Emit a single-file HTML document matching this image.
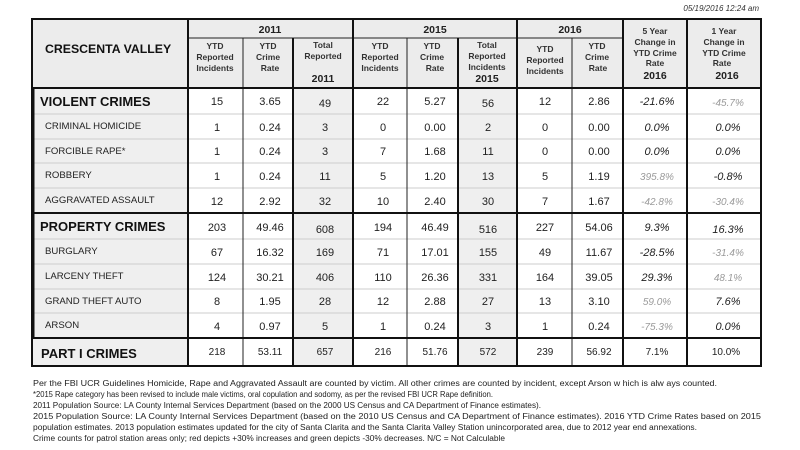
<!DOCTYPE html>
<html><head><meta charset="utf-8"><style>
html,body{margin:0;padding:0;background:#fff}
svg{display:block}
text{font-family:"Liberation Sans",sans-serif}
.h{font-size:8.5px;font-weight:bold;fill:#333;text-anchor:middle}
.y{font-size:10.5px;font-weight:bold;fill:#222;text-anchor:middle}
.d{font-size:11px;fill:#222;text-anchor:middle}
.p{font-size:10px;fill:#222;text-anchor:middle}
.i{font-size:11px;fill:#222;text-anchor:middle;font-style:italic}
.g{fill:#9a9a9a}
.s{font-size:13px;font-weight:bold;fill:#111}
.l{font-size:9.6px;fill:#222}
.f{font-size:8px;fill:#222}
</style></head><body>
<svg width="800" height="450" xmlns="http://www.w3.org/2000/svg">
<text x="759" y="11" text-anchor="end" font-size="8" font-style="italic" fill="#333">05/19/2016 12:24 am</text>
<rect x="31" y="18" width="731" height="70" fill="#ececec"/>
<rect x="31" y="88" width="157" height="278" fill="#efefef"/>
<rect x="293" y="88" width="60" height="278" fill="#efefef"/>
<rect x="458" y="88" width="59" height="278" fill="#efefef"/>
<g stroke="#ccc" stroke-width="1">
<line x1="31" y1="114" x2="762" y2="114"/><line x1="31" y1="139" x2="762" y2="139"/>
<line x1="31" y1="163" x2="762" y2="163"/><line x1="31" y1="188" x2="762" y2="188"/>
<line x1="31" y1="239" x2="762" y2="239"/><line x1="31" y1="264" x2="762" y2="264"/>
<line x1="31" y1="289" x2="762" y2="289"/><line x1="31" y1="313" x2="762" y2="313"/>
</g>
<g stroke="#222" stroke-width="1">
<line x1="188" y1="38" x2="623" y2="38"/>
<line x1="243" y1="38" x2="243" y2="366"/><line x1="407" y1="38" x2="407" y2="366"/>
<line x1="572" y1="38" x2="572" y2="366"/>
</g>
<g stroke="#111" stroke-width="2">
<line x1="293" y1="38" x2="293" y2="366"/><line x1="458" y1="38" x2="458" y2="366"/>
<line x1="188" y1="18" x2="188" y2="366"/><line x1="353" y1="18" x2="353" y2="366"/>
<line x1="517" y1="18" x2="517" y2="366"/><line x1="623" y1="18" x2="623" y2="366"/>
<line x1="687" y1="18" x2="687" y2="366"/>
<line x1="31" y1="88" x2="762" y2="88"/><line x1="31" y1="213" x2="762" y2="213"/>
<line x1="31" y1="338" x2="762" y2="338"/>
</g>
<rect x="32" y="19" width="729" height="347" fill="none" stroke="#111" stroke-width="2"/>
<line x1="33" y1="88" x2="33" y2="338" stroke="#111" stroke-width="3"/>
<text x="45" y="53" font-size="12.3" font-weight="bold" fill="#111">CRESCENTA VALLEY</text>
<text class="y" x="270" y="33">2011</text><text class="y" x="435" y="33">2015</text><text class="y" x="570" y="33">2016</text>
<text class="h"><tspan x="215" y="49">YTD</tspan><tspan x="215" y="60">Reported</tspan><tspan x="215" y="71">Incidents</tspan></text>
<text class="h"><tspan x="268" y="49">YTD</tspan><tspan x="268" y="60">Crime</tspan><tspan x="270" y="71">Rate</tspan></text>
<text class="h"><tspan x="323" y="48">Total</tspan><tspan x="323" y="59">Reported</tspan></text><text class="y" x="323" y="82" font-size="9.5">2011</text>
<text class="h"><tspan x="380" y="49">YTD</tspan><tspan x="380" y="60">Reported</tspan><tspan x="380" y="71">Incidents</tspan></text>
<text class="h"><tspan x="432" y="49">YTD</tspan><tspan x="432" y="60">Crime</tspan><tspan x="435" y="71">Rate</tspan></text>
<text class="h"><tspan x="487" y="48">Total</tspan><tspan x="487" y="59">Reported</tspan><tspan x="487" y="70">Incidents</tspan></text><text class="y" x="487" y="82" font-size="9.5">2015</text>
<text class="h"><tspan x="545" y="52">YTD</tspan><tspan x="545" y="63">Reported</tspan><tspan x="545" y="74">Incidents</tspan></text>
<text class="h"><tspan x="597" y="49">YTD</tspan><tspan x="597" y="60">Crime</tspan><tspan x="598" y="71">Rate</tspan></text>
<text class="h"><tspan x="655" y="34">5 Year</tspan><tspan x="655" y="45">Change in</tspan><tspan x="655" y="56">YTD Crime</tspan><tspan x="655" y="66">Rate</tspan></text><text class="y" x="655" y="79" font-size="9.5">2016</text>
<text class="h"><tspan x="724" y="34">1 Year</tspan><tspan x="724" y="45">Change in</tspan><tspan x="724" y="56">YTD Crime</tspan><tspan x="722" y="66">Rate</tspan></text><text class="y" x="727" y="79" font-size="9.5">2016</text>
<text class="s" x="40" y="106">VIOLENT CRIMES</text>
<text class="l" x="45" y="129">CRIMINAL HOMICIDE</text>
<text class="l" x="45" y="154">FORCIBLE RAPE*</text>
<text class="l" x="45" y="178">ROBBERY</text>
<text class="l" x="45" y="203">AGGRAVATED ASSAULT</text>
<text class="s" x="40" y="231">PROPERTY CRIMES</text>
<text class="l" x="45" y="254">BURGLARY</text>
<text class="l" x="45" y="279">LARCENY THEFT</text>
<text class="l" x="45" y="304">GRAND THEFT AUTO</text>
<text class="l" x="45" y="328">ARSON</text>
<text class="s" x="41" y="358" font-size="13.5">PART I CRIMES</text>
<g class="d">
<text x="217" y="105">15</text><text x="270" y="105">3.65</text><text x="325" y="107">49</text><text x="383" y="105">22</text><text x="435" y="105">5.27</text><text x="488" y="107">56</text><text x="545" y="105">12</text><text x="599" y="105">2.86</text>
<text x="217" y="131">1</text><text x="270" y="131">0.24</text><text x="325" y="131">3</text><text x="383" y="131">0</text><text x="435" y="131">0.00</text><text x="488" y="131">2</text><text x="545" y="131">0</text><text x="599" y="131">0.00</text>
<text x="217" y="155">1</text><text x="270" y="155">0.24</text><text x="325" y="155">3</text><text x="383" y="155">7</text><text x="435" y="155">1.68</text><text x="488" y="155">11</text><text x="545" y="155">0</text><text x="599" y="155">0.00</text>
<text x="217" y="180">1</text><text x="270" y="180">0.24</text><text x="325" y="180">11</text><text x="383" y="180">5</text><text x="435" y="180">1.20</text><text x="488" y="180">13</text><text x="545" y="180">5</text><text x="599" y="180">1.19</text>
<text x="217" y="205">12</text><text x="270" y="205">2.92</text><text x="325" y="205">32</text><text x="383" y="205">10</text><text x="435" y="205">2.40</text><text x="488" y="205">30</text><text x="545" y="205">7</text><text x="599" y="205">1.67</text>
<text x="217" y="231">203</text><text x="270" y="231">49.46</text><text x="325" y="233">608</text><text x="383" y="231">194</text><text x="435" y="231">46.49</text><text x="488" y="233">516</text><text x="545" y="231">227</text><text x="599" y="231">54.06</text>
<text x="217" y="256">67</text><text x="270" y="256">16.32</text><text x="325" y="256">169</text><text x="383" y="256">71</text><text x="435" y="256">17.01</text><text x="488" y="256">155</text><text x="545" y="256">49</text><text x="599" y="256">11.67</text>
<text x="217" y="281">124</text><text x="270" y="281">30.21</text><text x="325" y="281">406</text><text x="383" y="281">110</text><text x="435" y="281">26.36</text><text x="488" y="281">331</text><text x="545" y="281">164</text><text x="599" y="281">39.05</text>
<text x="217" y="305">8</text><text x="270" y="305">1.95</text><text x="325" y="305">28</text><text x="383" y="305">12</text><text x="435" y="305">2.88</text><text x="488" y="305">27</text><text x="545" y="305">13</text><text x="599" y="305">3.10</text>
<text x="217" y="330">4</text><text x="270" y="330">0.97</text><text x="325" y="330">5</text><text x="383" y="330">1</text><text x="435" y="330">0.24</text><text x="488" y="330">3</text><text x="545" y="330">1</text><text x="599" y="330">0.24</text>
</g>
<g class="p">
<text x="217" y="355">218</text><text x="270" y="355">53.11</text><text x="325" y="355">657</text><text x="383" y="355">216</text><text x="435" y="355">51.76</text><text x="488" y="355">572</text><text x="545" y="355">239</text><text x="599" y="355">56.92</text>
<text x="657" y="355">7.1%</text><text x="726" y="355">10.0%</text>
</g>
<g class="i">
<text x="657" y="105">-21.6%</text><text class="g" x="728" y="106" font-size="10">-45.7%</text>
<text x="657" y="131">0.0%</text><text x="728" y="131">0.0%</text>
<text x="657" y="155">0.0%</text><text x="728" y="155">0.0%</text>
<text class="g" x="657" y="180" font-size="10">395.8%</text><text x="728" y="180">-0.8%</text>
<text class="g" x="657" y="205" font-size="10">-42.8%</text><text class="g" x="728" y="205" font-size="10">-30.4%</text>
<text x="657" y="231">9.3%</text><text x="728" y="233">16.3%</text>
<text x="657" y="256">-28.5%</text><text class="g" x="728" y="256" font-size="10">-31.4%</text>
<text x="657" y="281">29.3%</text><text class="g" x="728" y="281" font-size="10">48.1%</text>
<text class="g" x="657" y="305" font-size="10">59.0%</text><text x="728" y="305">7.6%</text>
<text class="g" x="657" y="330" font-size="10">-75.3%</text><text x="728" y="330">0.0%</text>
</g>
<text class="f" x="33" y="386" textLength="684" lengthAdjust="spacingAndGlyphs">Per the FBI UCR Guidelines Homicide, Rape and Aggravated Assault are counted by victim. All other crimes are counted by incident, except Arson w hich is alw ays counted.</text>
<text class="f" x="33" y="397" textLength="460" lengthAdjust="spacingAndGlyphs">*2015 Rape category has been revised to include male victims, oral copulation and sodomy, as per the revised FBI UCR Rape definition.</text>
<text class="f" x="33" y="408" textLength="508" lengthAdjust="spacingAndGlyphs">2011 Population Source: LA County Internal Services Department (based on the 2000 US Census and CA Department of Finance estimates).</text>
<text class="f" x="33" y="419" textLength="728" lengthAdjust="spacingAndGlyphs">2015 Population Source: LA County Internal Services Department (based on the 2010 US Census and CA Department of Finance estimates).  2016 YTD Crime Rates based on 2015</text>
<text class="f" x="33" y="430" textLength="664" lengthAdjust="spacingAndGlyphs">population estimates. 2013 population estimates updated for the city of Santa Clarita and the Santa Clarita Valley Station unincorporated area, due to 2012 year end annexations.</text>
<text class="f" x="33" y="441" textLength="472" lengthAdjust="spacingAndGlyphs">Crime counts for patrol station areas only; red depicts +30% increases and green depicts -30% decreases. N/C = Not Calculable</text>
</svg>
</body></html>
